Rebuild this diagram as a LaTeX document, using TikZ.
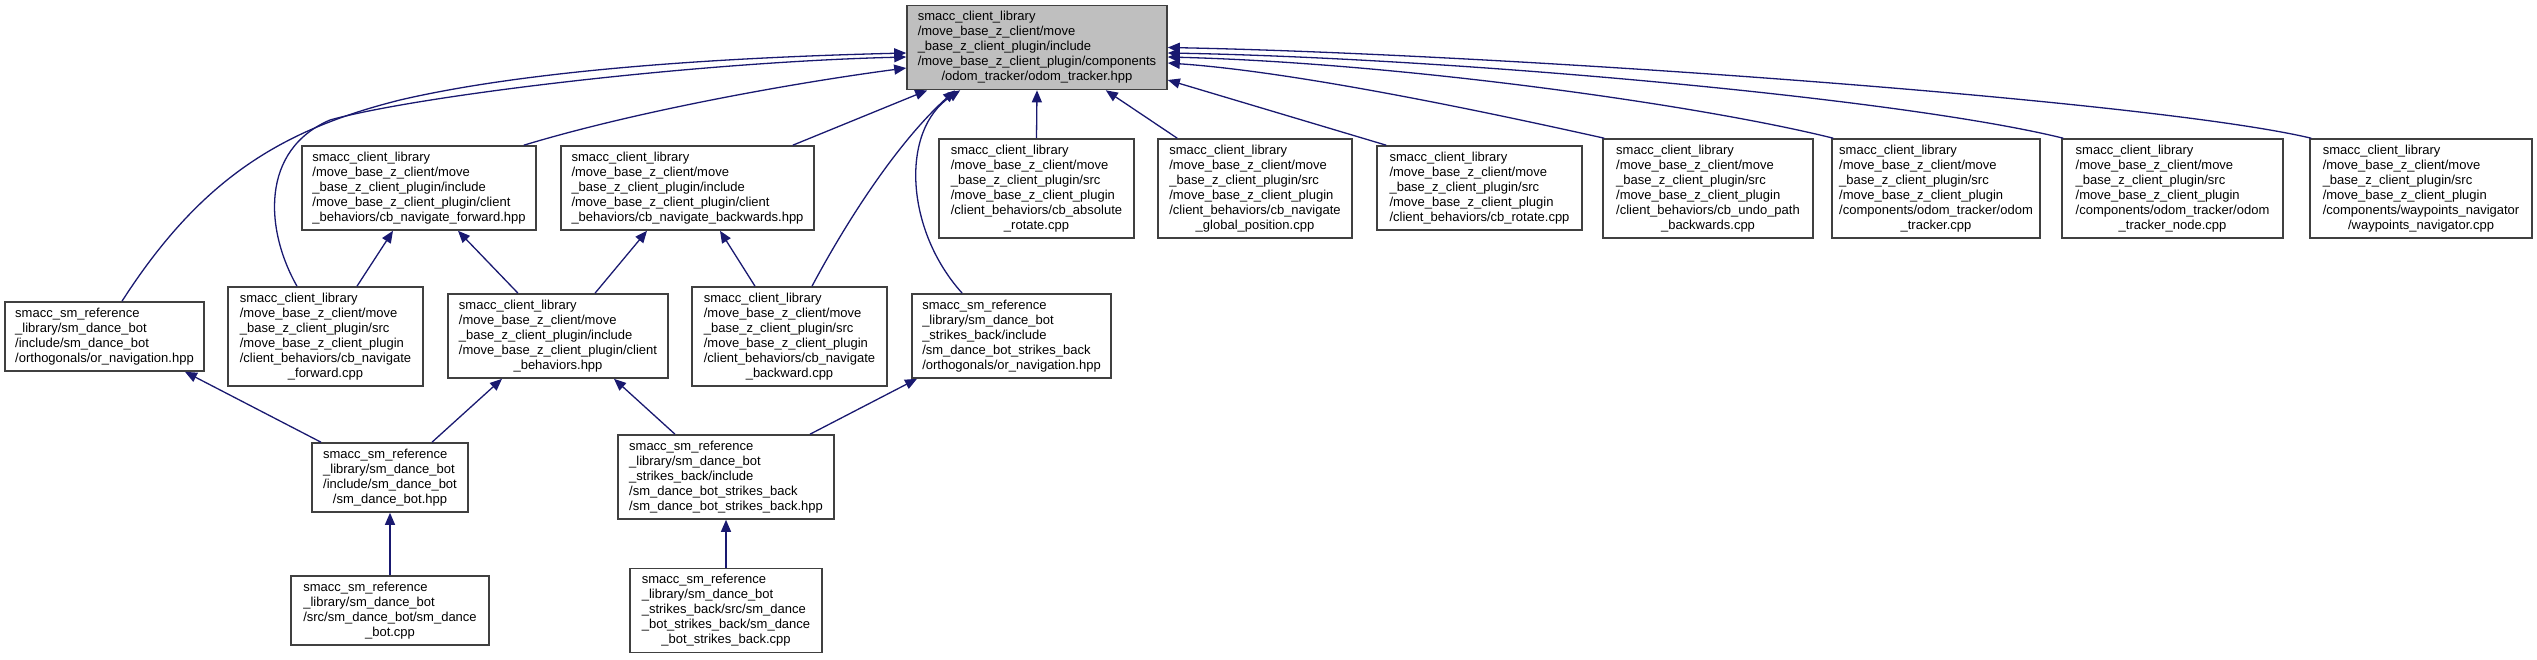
\documentclass[tikz,border=0pt]{standalone}
\usepackage{fontspec}
\setmainfont{Liberation Sans}
\usetikzlibrary{arrows.meta}
\definecolor{edgeblue}{HTML}{191970}
\definecolor{rootgray}{HTML}{BFBFBF}
\definecolor{boxline}{HTML}{404040}
\newcommand{\pathlines}[1]{\begin{tabular}{@{}l@{}}#1\end{tabular}}
\newcommand{\lastline}[1]{\multicolumn{1}{@{}c@{}}{#1}}

\begin{document}
\begin{tikzpicture}[x=1pt, y=-1pt,
    box/.style={draw=boxline, fill=white, line width=1.6pt, inner xsep=0pt, inner ysep=4.5pt,
        font=\fontsize{13}{15}\selectfont},
    dep/.style={draw=edgeblue, line width=1.3pt, -{Triangle[length=12pt, width=10pt]}}]
    \useasboundingbox (0,0) rectangle (2537,659);

    % Header under study
    \node[box, fill=rootgray, minimum width=260pt] (root) at (1037,47.5) {\pathlines{smacc\_client\_library\\/move\_base\_z\_client/move\\\_base\_z\_client\_plugin/include\\/move\_base\_z\_client\_plugin/components\\\lastline{/odom\_tracker/odom\_tracker.hpp}}};

    % First row
    \node[box, minimum width=234pt] (fwdhpp) at (419,188) {\pathlines{smacc\_client\_library\\/move\_base\_z\_client/move\\\_base\_z\_client\_plugin/include\\/move\_base\_z\_client\_plugin/client\\\lastline{\_behaviors/cb\_navigate\_forward.hpp}}};
    \node[box, minimum width=253pt] (bwdhpp) at (687.5,188) {\pathlines{smacc\_client\_library\\/move\_base\_z\_client/move\\\_base\_z\_client\_plugin/include\\/move\_base\_z\_client\_plugin/client\\\lastline{\_behaviors/cb\_navigate\_backwards.hpp}}};
    \node[box, minimum width=195pt] (absrot) at (1036.5,188.5) {\pathlines{smacc\_client\_library\\/move\_base\_z\_client/move\\\_base\_z\_client\_plugin/src\\/move\_base\_z\_client\_plugin\\/client\_behaviors/cb\_absolute\\\lastline{\_rotate.cpp}}};
    \node[box, minimum width=194pt] (globpos) at (1255,188.5) {\pathlines{smacc\_client\_library\\/move\_base\_z\_client/move\\\_base\_z\_client\_plugin/src\\/move\_base\_z\_client\_plugin\\/client\_behaviors/cb\_navigate\\\lastline{\_global\_position.cpp}}};
    \node[box, minimum width=205pt] (rotate) at (1479.5,188) {\pathlines{smacc\_client\_library\\/move\_base\_z\_client/move\\\_base\_z\_client\_plugin/src\\/move\_base\_z\_client\_plugin\\\lastline{/client\_behaviors/cb\_rotate.cpp}}};
    \node[box, minimum width=210pt] (undo) at (1708,188.5) {\pathlines{smacc\_client\_library\\/move\_base\_z\_client/move\\\_base\_z\_client\_plugin/src\\/move\_base\_z\_client\_plugin\\/client\_behaviors/cb\_undo\_path\\\lastline{\_backwards.cpp}}};
    \node[box, minimum width=208pt] (odomcpp) at (1936,188.5) {\pathlines{smacc\_client\_library\\/move\_base\_z\_client/move\\\_base\_z\_client\_plugin/src\\/move\_base\_z\_client\_plugin\\/components/odom\_tracker/odom\\\lastline{\_tracker.cpp}}};
    \node[box, minimum width=221pt] (odomnode) at (2172.5,188.5) {\pathlines{smacc\_client\_library\\/move\_base\_z\_client/move\\\_base\_z\_client\_plugin/src\\/move\_base\_z\_client\_plugin\\/components/odom\_tracker/odom\\\lastline{\_tracker\_node.cpp}}};
    \node[box, minimum width=222pt] (waypts) at (2421,188.5) {\pathlines{smacc\_client\_library\\/move\_base\_z\_client/move\\\_base\_z\_client\_plugin/src\\/move\_base\_z\_client\_plugin\\/components/waypoints\_navigator\\\lastline{/waypoints\_navigator.cpp}}};

    % Second row
    \node[box, minimum width=199pt] (ornav) at (104.5,336.5) {\pathlines{smacc\_sm\_reference\\\_library/sm\_dance\_bot\\/include/sm\_dance\_bot\\\lastline{/orthogonals/or\_navigation.hpp}}};
    \node[box, minimum width=195pt] (fwdcpp) at (325.5,336.5) {\pathlines{smacc\_client\_library\\/move\_base\_z\_client/move\\\_base\_z\_client\_plugin/src\\/move\_base\_z\_client\_plugin\\/client\_behaviors/cb\_navigate\\\lastline{\_forward.cpp}}};
    \node[box, minimum width=220pt] (cbhpp) at (558,336) {\pathlines{smacc\_client\_library\\/move\_base\_z\_client/move\\\_base\_z\_client\_plugin/include\\/move\_base\_z\_client\_plugin/client\\\lastline{\_behaviors.hpp}}};
    \node[box, minimum width=195pt] (bwdcpp) at (789.5,336.5) {\pathlines{smacc\_client\_library\\/move\_base\_z\_client/move\\\_base\_z\_client\_plugin/src\\/move\_base\_z\_client\_plugin\\/client\_behaviors/cb\_navigate\\\lastline{\_backward.cpp}}};
    \node[box, minimum width=199pt] (sbornav) at (1011.5,336) {\pathlines{smacc\_sm\_reference\\\_library/sm\_dance\_bot\\\_strikes\_back/include\\/sm\_dance\_bot\_strikes\_back\\\lastline{/orthogonals/or\_navigation.hpp}}};

    % Third and fourth rows
    \node[box, minimum width=156pt] (dbhpp) at (390,477.5) {\pathlines{smacc\_sm\_reference\\\_library/sm\_dance\_bot\\/include/sm\_dance\_bot\\\lastline{/sm\_dance\_bot.hpp}}};
    \node[box, minimum width=216pt] (sbhpp) at (726,477) {\pathlines{smacc\_sm\_reference\\\_library/sm\_dance\_bot\\\_strikes\_back/include\\/sm\_dance\_bot\_strikes\_back\\\lastline{/sm\_dance\_bot\_strikes\_back.hpp}}};
    \node[box, minimum width=198pt] (dbcpp) at (390,610.5) {\pathlines{smacc\_sm\_reference\\\_library/sm\_dance\_bot\\/src/sm\_dance\_bot/sm\_dance\\\lastline{\_bot.cpp}}};
    \node[box, minimum width=192pt] (sbcpp) at (726,610.5) {\pathlines{smacc\_sm\_reference\\\_library/sm\_dance\_bot\\\_strikes\_back/src/sm\_dance\\\_bot\_strikes\_back/sm\_dance\\\lastline{\_bot\_strikes\_back.cpp}}};

    % Includes of the header
    \draw[dep] ([xshift=17.5pt]ornav.north) .. controls (200,180) and (280,130) .. (400,100) .. controls (520,72) and (700,58) .. ([yshift=-5.5pt]root.west);
    \draw[dep] ([xshift=-28.5pt]fwdcpp.north) .. controls (265,230) and (260,150) .. (330,120) .. controls (420,95) and (700,62) .. ([yshift=-9.5pt]root.west);
    \draw[dep] ([xshift=-13pt]fwdhpp.north east) .. controls (640,110) and (800,82) .. ([yshift=-20.5pt]root.west);
    \draw[dep] ([xshift=-22pt]bwdhpp.north east) -- ([xshift=21pt]root.south west);
    \draw[dep] ([xshift=22.5pt]bwdcpp.north) .. controls (850,215) and (900,140) .. ([xshift=49pt]root.south west);
    \draw[dep] ([xshift=51pt]sbornav.north west) .. controls (905,230) and (900,130) .. ([xshift=54pt]root.south west);
    \draw[dep] (absrot.north) -- (root.south);
    \draw[dep] ([xshift=20pt]globpos.north west) -- ([xshift=-62pt]root.south east);
    \draw[dep] ([xshift=10pt]rotate.north west) -- ([yshift=-32.5pt]root.east);
    \draw[dep] ([xshift=2pt]undo.north west) .. controls (1500,115) and (1300,72) .. ([yshift=-15.5pt]root.east);
    \draw[dep] ([xshift=2pt]odomcpp.north west) .. controls (1700,105) and (1400,63) .. ([yshift=-9.5pt]root.east);
    \draw[dep] ([xshift=2pt]odomnode.north west) .. controls (1900,98) and (1450,58) .. ([yshift=-5.5pt]root.east);
    \draw[dep] ([xshift=2pt]waypts.north west) .. controls (2150,100) and (1500,54) .. (root.east);

    % Lower includes
    \draw[dep] ([xshift=31.5pt]fwdcpp.north) -- ([xshift=-26pt]fwdhpp.south);
    \draw[dep] ([xshift=-40pt]cbhpp.north) -- ([xshift=39pt]fwdhpp.south);
    \draw[dep] ([xshift=37pt]cbhpp.north) -- ([xshift=-40.5pt]bwdhpp.south);
    \draw[dep] ([xshift=-34.5pt]bwdcpp.north) -- ([xshift=32.5pt]bwdhpp.south);
    \draw[dep] ([xshift=-69pt]dbhpp.north) -- ([xshift=80.5pt]ornav.south);
    \draw[dep] ([xshift=42pt]dbhpp.north) -- ([xshift=-56pt]cbhpp.south);
    \draw[dep] ([xshift=-51pt]sbhpp.north) -- ([xshift=56pt]cbhpp.south);
    \draw[dep] ([xshift=84pt]sbhpp.north) -- ([xshift=-94.5pt]sbornav.south);
    \draw[dep] (dbcpp.north) -- (dbhpp.south);
    \draw[dep] (sbcpp.north) -- (sbhpp.south);
\end{tikzpicture}
\end{document}
